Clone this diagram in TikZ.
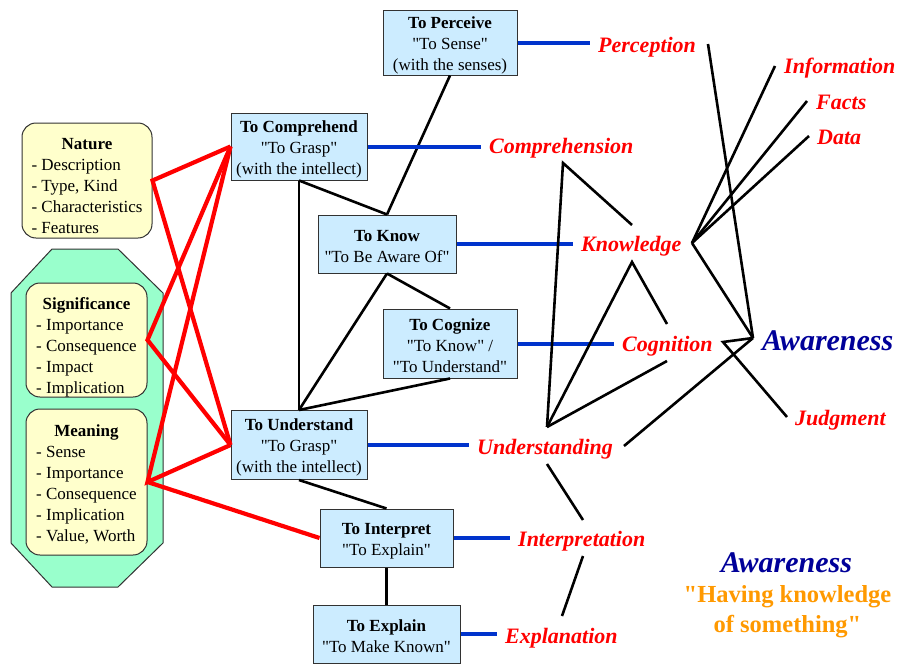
\documentclass[tikz,border=0pt]{standalone}
\usepackage{fontspec}
\setmainfont{Liberation Serif}
\definecolor{boxblue}{RGB}{204,236,255}
\definecolor{boxyellow}{RGB}{255,255,204}
\definecolor{boxgreen}{RGB}{153,255,204}
\definecolor{boxline}{RGB}{50,50,50}
\definecolor{linkblue}{RGB}{0,51,204}
\definecolor{navyterm}{RGB}{0,0,153}
\definecolor{goldtext}{RGB}{255,153,0}
\newcommand{\qq}{\textquotedbl}
% taller first line so the text block sits a little lower in its box
\newcommand{\topgap}{\rule{0pt}{17pt}}
\tikzset{
  verb/.style={draw=boxline, fill=boxblue, line width=1pt, align=center,
    inner sep=0pt, font=\fontsize{17}{21}\selectfont},
  ybox/.style={draw=boxline, fill=boxyellow, rounded corners=14pt, line width=1pt,
    inner sep=0pt},
  ytext/.style={inner sep=0pt, font=\fontsize{17}{21}\selectfont},
  term/.style={text=red, font=\fontsize{22}{26}\selectfont\bfseries\itshape,
    inner xsep=8pt, inner ysep=0pt, anchor=base west},
  redlink/.style={draw=red, line width=4.2pt},
  bluelink/.style={draw=linkblue, line width=4pt},
  blacklink/.style={draw=black, line width=2.6pt}
}
\newcommand{\itemlist}[2]{\begin{tabular}{@{}l@{}}\multicolumn{1}{@{}c@{}}{\textbf{#1}}\\#2\end{tabular}}
\begin{document}
\begin{tikzpicture}[x=1pt,y=-1pt]
\useasboundingbox (0,0) rectangle (898,664);

% green octagon holding Significance and Meaning
\draw[fill=boxgreen, draw=boxline, line width=1pt]
  (52,249) -- (118,249) -- (163,293) -- (163,543) -- (118,587) -- (52,587) -- (11,543) -- (11,293) -- cycle;

% left-hand aspect boxes
\node[ybox, minimum width=130pt, minimum height=115pt] (nature) at (87,180.5) {};
\node[ytext] (natureText) at (87,187) 
  {\itemlist{Nature}{- Description\\- Type, Kind\\- Characteristics\\- Features}};
\node[ybox, minimum width=121pt, minimum height=114pt] (signif) at (86.5,340) {};
\node[ytext] (signifText) at (86.5,347)
  {\itemlist{Significance}{- Importance\\- Consequence\\- Impact\\- Implication}};
\node[ybox, minimum width=121pt, minimum height=146pt] (meaning) at (86.5,482) {};
\node[ytext] (meaningText) at (86.5,485)
  {\itemlist{Meaning}{- Sense\\- Importance\\- Consequence\\- Implication\\- Value, Worth}};

% verb boxes
\node[verb, minimum width=134pt, minimum height=65pt] (perceive) at (450,42.5)
  {\topgap\textbf{To Perceive}\\\qq To Sense\qq\\(with the senses)};
\node[verb, minimum width=136pt, minimum height=67pt] (comprehend) at (299,146.5)
  {\topgap\textbf{To Comprehend}\\\qq To Grasp\qq\\(with the intellect)};
\node[verb, minimum width=138pt, minimum height=58pt] (know) at (387,244)
  {\topgap\textbf{To Know}\\\qq To Be Aware Of\qq};
\node[verb, minimum width=134pt, minimum height=69pt] (cognize) at (450,343.5)
  {\topgap\textbf{To Cognize}\\\qq To Know\qq\ /\\\qq To Understand\qq};
\node[verb, minimum width=136pt, minimum height=69pt] (understand) at (299,445)
  {\topgap\textbf{To Understand}\\\qq To Grasp\qq\\(with the intellect)};
\node[verb, minimum width=133pt, minimum height=58pt] (interpret) at (386.5,538)
  {\topgap\textbf{To Interpret}\\\qq To Explain\qq};
\node[verb, minimum width=147pt, minimum height=58pt] (explain) at (386.5,634)
  {\topgap\textbf{To Explain}\\\qq To Make Known\qq};

% red links from aspects to verbs
\draw[redlink] (comprehend.west) -- (nature.east) -- (understand.west);
\draw[redlink] (comprehend.west) -- (signif.east) -- (understand.west);
\draw[redlink] (comprehend.west) -- (meaning.east) -- (understand.west);
\draw[redlink] (meaning.east) -- (interpret.west);

% black links between verbs
\draw[blacklink] (perceive.south) -- (know.north);
\draw[blacklink] (comprehend.south) -- (know.north);
\draw[blacklink] (comprehend.south) -- (understand.north);
\draw[blacklink] (know.south) -- (cognize.north);
\draw[blacklink] (know.south) -- (understand.north);
\draw[blacklink] (cognize.south) -- (understand.north);
\draw[blacklink] (understand.south) -- (interpret.north);
\draw[blacklink] (interpret.south) -- (explain.north);

% nouns
\node[term] (perception) at (590,52.3) {Perception};
\node[term] (comprehension) at (481,153.3) {Comprehension};
\node[term] (knowledge) at (573,251.7) {Knowledge};
\node[term] (cognition) at (614,351.7) {Cognition};
\node[term] (understanding) at (469,454.3) {Understanding};
\node[term] (interpretation) at (510,546.7) {Interpretation};
\node[term] (explanation) at (497,643.3) {Explanation};
\node[term] (information) at (776,73.3) {Information};
\node[term] (facts) at (808,109.3) {Facts};
\node[term] (data) at (809,144) {Data};
\node[term] (judgment) at (787,425) {Judgment};
\node[text=navyterm, font=\fontsize{30}{34}\selectfont\bfseries\itshape,
  inner sep=0pt, anchor=base west] (awareness) at (762,350) {Awareness};

% blue links from verbs to nouns (level with each verb box)
\draw[bluelink] (perceive.east) -- (perceive.east -| perception.west);
\draw[bluelink] (comprehend.east) -- (comprehend.east -| comprehension.west);
\draw[bluelink] (know.east) -- (know.east -| knowledge.west);
\draw[bluelink] (cognize.east) -- (cognize.east -| cognition.west);
\draw[bluelink] (understand.east) -- (understand.east -| understanding.west);
\draw[bluelink] (interpret.east) -- (interpret.east -| interpretation.west);
\draw[bluelink] (explain.east) -- (explain.east -| explanation.west);

% free ends of the noun links
\coordinate (pc) at (708,44);
\coordinate (aw) at (753,338);
\coordinate (kv) at (692,243);
\coordinate (inf) at (775,66);
\coordinate (fac) at (807,101);
\coordinate (dat) at (809,136);
\coordinate (cm1) at (563,163);
\coordinate (cm2) at (632,225);
\coordinate (un) at (547,427);
\coordinate (kl) at (632,262);
\coordinate (cg1) at (667,324);
\coordinate (cg2) at (667,361);
\coordinate (cgr) at (723,342);
\coordinate (jd) at (787,417);
\coordinate (unr) at (624,446);
\coordinate (unb) at (547,464);
\coordinate (ip1) at (583,520);
\coordinate (ip2) at (583,556);
\coordinate (ex1) at (562,616);

% black links between nouns
\draw[blacklink] (pc) -- (aw);
\draw[blacklink] (kv) -- (inf);
\draw[blacklink] (kv) -- (fac);
\draw[blacklink] (kv) -- (dat);
\draw[blacklink] (kv) -- (aw);
\draw[blacklink] (cm2) -- (cm1) -- (un);
\draw[blacklink] (cg1) -- (kl) -- (un);
\draw[blacklink] (cg2) -- (un);
\draw[blacklink] (aw) -- (cgr) -- (jd);
\draw[blacklink] (unr) -- (aw);
\draw[blacklink] (unb) -- (ip1);
\draw[blacklink] (ip2) -- (ex1);

% definition
\node[text=navyterm, font=\fontsize{30}{34}\selectfont\bfseries\itshape,
  inner sep=0pt, anchor=base] (awdef) at (786.5,572.7) {Awareness};
\node[text=goldtext, font=\fontsize{24.5}{30}\selectfont\bfseries, align=center,
  inner sep=0pt] (having) at (787.5,612) {\qq Having knowledge\\of something\qq};
\end{tikzpicture}
\end{document}
